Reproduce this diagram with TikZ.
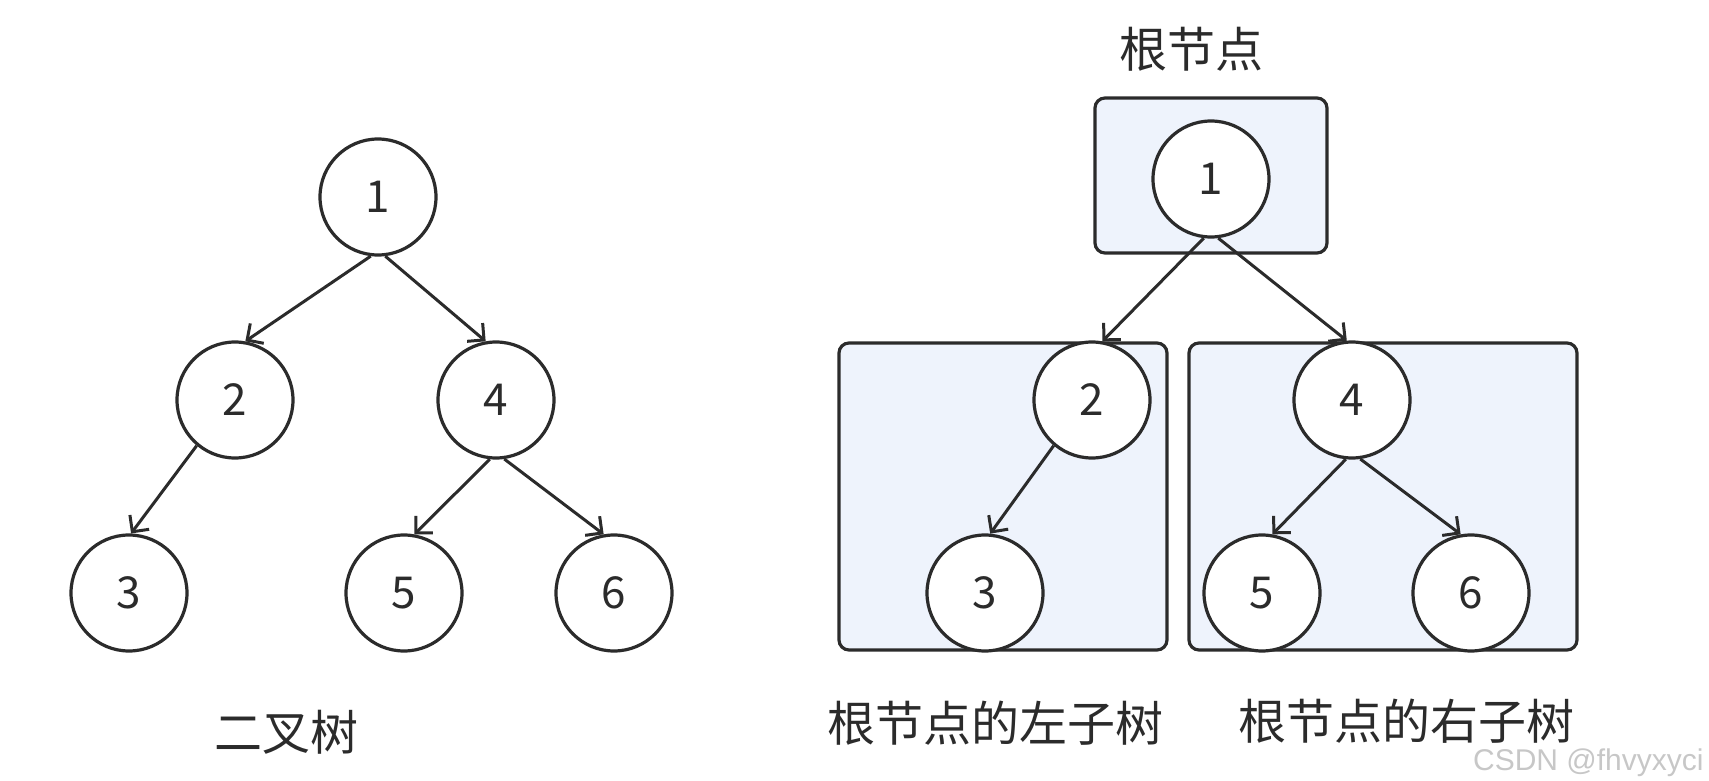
\documentclass[tikz,border=0pt]{standalone}
\usepackage{fontspec}
\setmainfont{Noto Sans CJK SC}
\newfontfamily\wmfont{Liberation Sans}
\usetikzlibrary{arrows.meta}
\definecolor{boxfill}{HTML}{EEF3FC}
\definecolor{inkgray}{HTML}{2B2B2B}

\begin{document}
\begin{tikzpicture}[x=0.5pt, y=-0.5pt,
        leaf/.style={circle, draw=inkgray, fill=white, line width=1.6pt, minimum size=58pt, inner sep=0pt, font=\fontsize{22}{26}\selectfont, text=inkgray},
        subtree/.style={rectangle, draw=inkgray, fill=boxfill, rounded corners=5pt, line width=1.6pt, inner sep=0pt},
        caption/.style={font=\fontsize{24}{28}\selectfont, text=inkgray},
        arrow/.style={-{Straight Barb[length=6pt,width=12pt]}, line width=1.5pt, draw=inkgray}
    ]
    \useasboundingbox (0,0) rectangle (1709,781);

    % Left: binary tree
    \node[leaf] (a1) at (378,197) {1};
    \node[leaf] (a2) at (235,400) {2};
    \node[leaf] (a4) at (496,400) {4};
    \node[leaf] (a3) at (129,593) {3};
    \node[leaf] (a5) at (404,593) {5};
    \node[leaf] (a6) at (614,593) {6};

    \draw[arrow] (a1.263) -- (a2.80);
    \draw[arrow] (a1.277) -- (a4.100);
    \draw[arrow] (a2.230) -- (a3.88);
    \draw[arrow] (a4.264) -- (a5.80);
    \draw[arrow] (a4.278) -- (a6.100);

    \node[caption] (capa) at (286,732) {二叉树};

    % Right: root and its subtrees
    \node[subtree, minimum width=116pt, minimum height=77.5pt] (rootbox) at (1211,175.5) {};
    \node[subtree, minimum width=164pt, minimum height=153.5pt] (leftbox) at (1003,496.5) {};
    \node[subtree, minimum width=194pt, minimum height=153.5pt] (rightbox) at (1383,496.5) {};

    \node[leaf] (b1) at (1211,179) {1};
    \node[leaf] (b2) at (1092,400) {2};
    \node[leaf] (b3) at (985,593) {3};
    \node[leaf] (b4) at (1352,400) {4};
    \node[leaf] (b5) at (1262,593) {5};
    \node[leaf] (b6) at (1471,593) {6};

    \draw[arrow] (b1.263) -- (b2.80);
    \draw[arrow] (b1.277) -- (b4.95);
    \draw[arrow] (b2.230) -- (b3.85);
    \draw[arrow] (b4.264) -- (b5.80);
    \draw[arrow] (b4.278) -- (b6.100);

    \node[caption] (capr) at (1191,49) {根节点};
    \node[caption] (capl) at (995,723) {根节点的左子树};
    \node[caption] (capri) at (1406,721) {根节点的右子树};

    \node[anchor=east, font=\wmfont\fontsize{15}{18}\selectfont, text=black!22, inner sep=1pt] (mark) at (1706,763) {CSDN @fhvyxyci};
\end{tikzpicture}
\end{document}
